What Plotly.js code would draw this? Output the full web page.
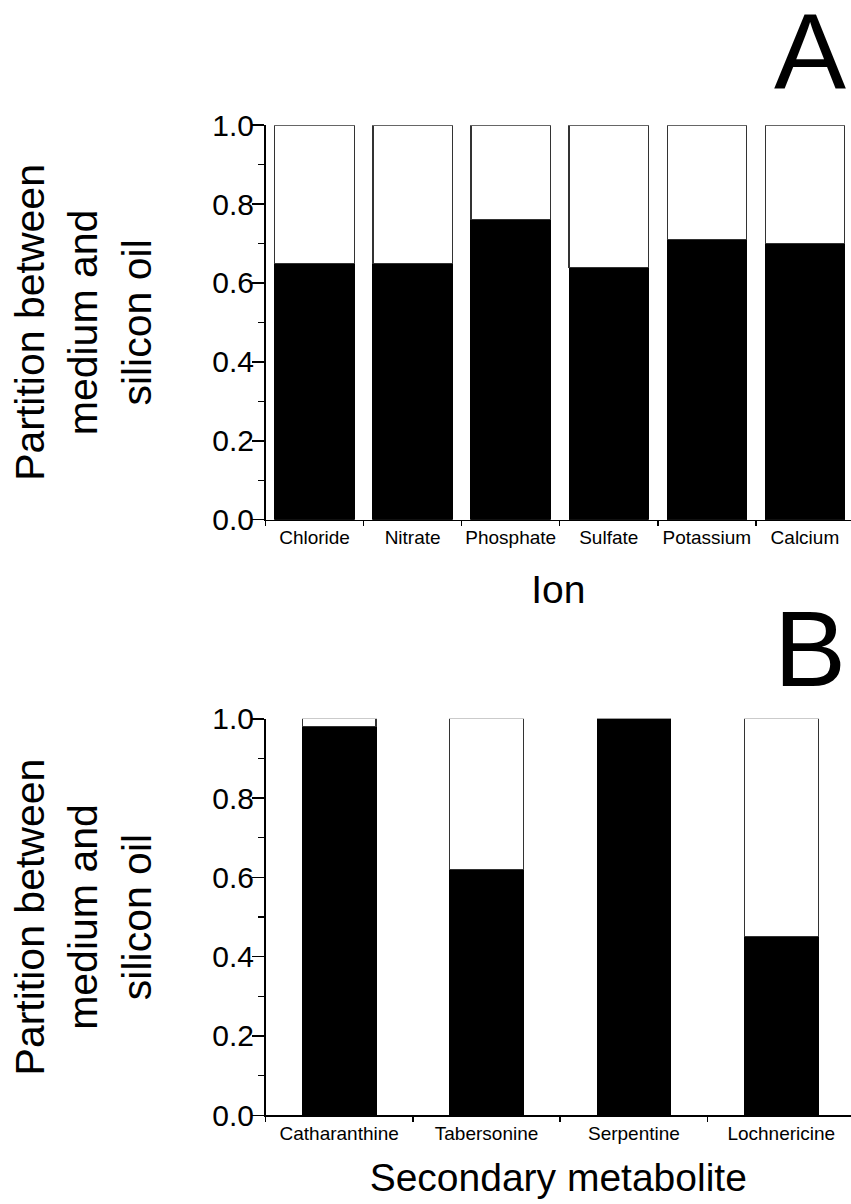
<!DOCTYPE html>
<html>
<head>
<meta charset="utf-8">
<script src="https://cdn.plot.ly/plotly-3.0.1.min.js"></script>
<style>html,body{margin:0;padding:0;background:#fff;}#chart{width:851px;height:1204px;}</style>
</head>
<body>
<div id="chart"></div>
<script>
// ---- data ----
const ions = ['Chloride', 'Nitrate', 'Phosphate', 'Sulfate', 'Potassium', 'Calcium'];
const ionMedium = [0.65, 0.65, 0.76, 0.64, 0.71, 0.70];
const ionOil = [0.35, 0.35, 0.24, 0.36, 0.29, 0.30];

const metabolites = ['Catharanthine', 'Tabersonine', 'Serpentine', 'Lochnericine'];
const metMedium = [0.98, 0.62, 1.00, 0.45];
const metOil = [0.02, 0.38, 0.00, 0.55];

const yTickVals = [0, 0.2, 0.4, 0.6, 0.8, 1.0];
const yTickText = ['0.0', '0.2', '0.4', '0.6', '0.8', '1.0'];

// ---- styling ----
const FONT = 'Arial, "Liberation Sans", sans-serif';

const traces = [
  {type: 'bar', x: ions, y: ionMedium, name: 'medium', xaxis: 'x', yaxis: 'y', width: 0.81,
   marker: {color: '#000000', line: {color: '#000000', width: 1}}, cliponaxis: false},
  {type: 'bar', x: ions, y: ionOil, name: 'silicon oil', xaxis: 'x', yaxis: 'y', width: 0.81,
   marker: {color: '#ffffff', line: {color: '#333333', width: 1.2}}, cliponaxis: false},
  {type: 'bar', x: metabolites, y: metMedium, name: 'medium', xaxis: 'x2', yaxis: 'y2', width: 0.5,
   marker: {color: '#000000', line: {color: '#000000', width: 1}}, cliponaxis: false},
  {type: 'bar', x: metabolites, y: metOil, name: 'silicon oil', xaxis: 'x2', yaxis: 'y2', width: 0.5,
   marker: {color: '#ffffff', line: {color: '#333333', width: 1.2}}, cliponaxis: false}
];

function yAxis(domain, anchor) {
  return {
    domain: domain, anchor: anchor, range: [0, 1.0], fixedrange: true,
    showline: true, linecolor: '#000', linewidth: 1.5,
    ticks: 'outside', ticklen: 12, tickwidth: 1.5, tickcolor: '#000',
    tickvals: yTickVals, ticktext: yTickText,
    tickfont: {family: FONT, size: 30, color: '#000'},
    ticklabelstandoff: -8,
    minor: {ticks: 'outside', ticklen: 6, tickwidth: 1.2, tickcolor: '#000', dtick: 0.1, showgrid: false},
    showgrid: false, zeroline: false,
    title: {text: 'Partition between<br>medium and<br>silicon oil', font: {family: FONT, size: 41, color: '#000'}, standoff: 48}
  };
}
function xAxis(domain, anchor, range, title, standoff) {
  return {
    domain: domain, anchor: anchor, type: 'category', range: range, fixedrange: true,
    showline: true, linecolor: '#000', linewidth: 1.5,
    ticks: 'outside', tickson: 'boundaries', ticklen: 5, tickwidth: 1.5, tickcolor: '#000',
    tickangle: 0,
    tickfont: {family: FONT, size: 19, color: '#000'},
    showgrid: false, zeroline: false,
    title: {text: title, font: {family: FONT, size: 39, color: '#000'}, standoff: standoff}
  };
}

const layout = {
  width: 851, height: 1204,
  margin: {l: 0, r: 0, t: 0, b: 0},
  paper_bgcolor: '#fff', plot_bgcolor: '#fff',
  barmode: 'stack', showlegend: false,
  font: {family: FONT, color: '#000'},
  xaxis: xAxis([0.312, 1], 'y', [-0.5, 5.47], 'Ion', 29),
  yaxis: yAxis([0.5684, 0.8960], 'x'),
  xaxis2: xAxis([0.312, 1], 'y2', [-0.5, 3.473], 'Secondary metabolite', 21),
  yaxis2: yAxis([0.0737, 0.4030], 'x2'),
  annotations: [
    {text: 'A', xref: 'paper', yref: 'paper', x: 0.996, y: 1 - 51 / 1204, xanchor: 'right', yanchor: 'middle',
     showarrow: false, font: {family: FONT, size: 108, color: '#000'}},
    {text: 'B', xref: 'paper', yref: 'paper', x: 0.996, y: 1 - 648 / 1204, xanchor: 'right', yanchor: 'middle',
     showarrow: false, font: {family: FONT, size: 108, color: '#000'}}
  ]
};

Plotly.newPlot('chart', traces, layout, {displayModeBar: false, staticPlot: true});
</script>
</body>
</html>
